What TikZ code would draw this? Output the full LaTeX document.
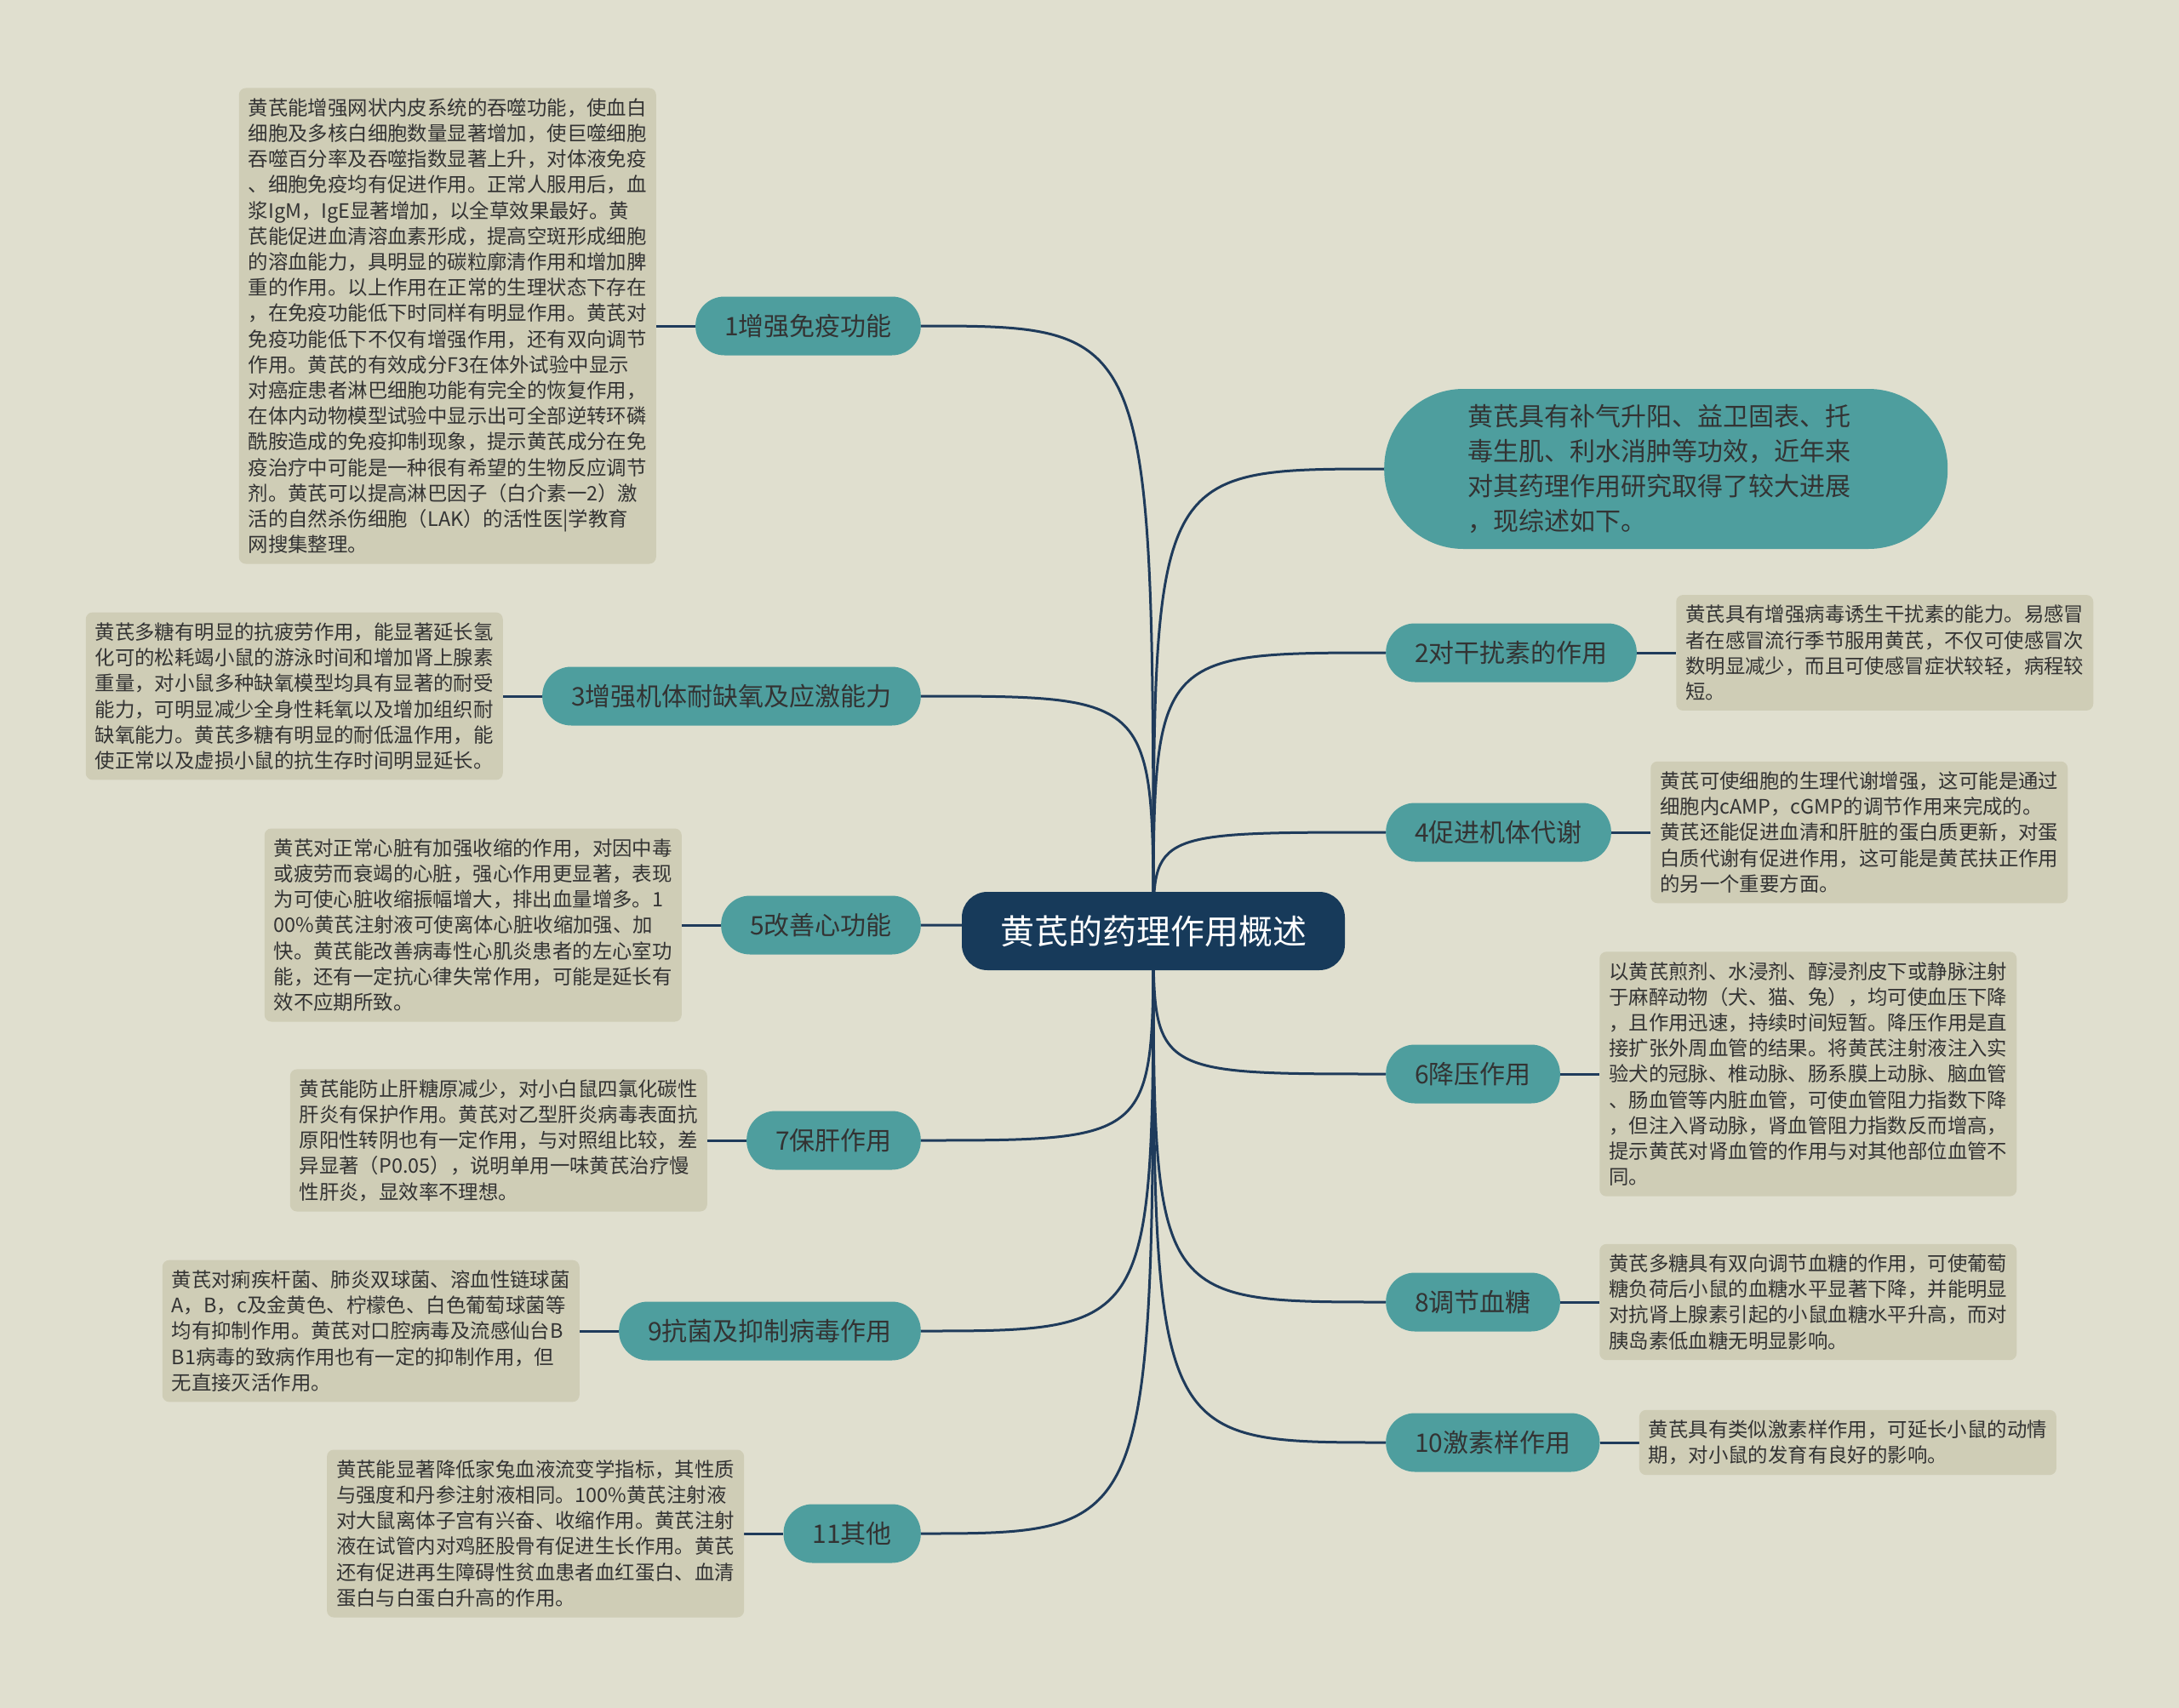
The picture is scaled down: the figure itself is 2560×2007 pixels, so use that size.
\documentclass[tikz,border=0pt]{standalone}
\usepackage{fontspec}
\setmainfont{Noto Sans CJK SC}
\usetikzlibrary{positioning}
\definecolor{bgcol}{HTML}{E0DFCF}
\definecolor{leafcol}{HTML}{CFCDB6}
\definecolor{tealcol}{HTML}{4E9E9E}
\definecolor{hubcol}{HTML}{173A5A}
\definecolor{linecol}{HTML}{1F3B5B}
\definecolor{txtcol}{HTML}{333333}
\pgfdeclarelayer{bg}
\pgfsetlayers{bg,main}
\begin{document}
\begin{tikzpicture}[x=1pt, y=-1pt, node distance=46pt,
    hub/.style={fill=hubcol, text=white, rounded corners=30pt, minimum width=450pt,
      minimum height=92pt, font=\fontsize{40}{48}\selectfont},
    branch/.style={fill=tealcol, text=txtcol, rounded corners=34pt, minimum height=69pt,
      inner xsep=34pt, font=\fontsize{30}{36}\selectfont},
    intro/.style={fill=tealcol, text=txtcol, rounded corners=93pt, minimum width=662pt,
      minimum height=188pt, text width=466pt, align=left, font=\fontsize{30}{40.8}\selectfont},
    leaf/.style={fill=leafcol, text=txtcol, rounded corners=8pt, text width=468pt, align=left,
      inner xsep=11pt, inner ysep=12pt, font=\fontsize{23.4}{30.2}\selectfont},
    link/.style={draw=linecol, line width=3pt}]
  \useasboundingbox (0,0) rectangle (2560,2007);
  % Centre
  \node[hub] (hub) at (1355,1094) {黄芪的药理作用概述};
  % Branches gauche
  \def\xl{1082} \def\xr{1628}
  \node[branch, anchor=east] (b1) at (\xl,383) {1增强免疫功能};
  \node[branch, anchor=east] (b3) at (\xl,818) {3增强机体耐缺氧及应激能力};
  \node[branch, anchor=east] (b5) at (\xl,1087) {5改善心功能};
  \node[branch, anchor=east] (b7) at (\xl,1340) {7保肝作用};
  \node[branch, anchor=east] (b9) at (\xl,1564) {9抗菌及抑制病毒作用};
  \node[branch, anchor=east] (b11) at (\xl,1802) {11其他};
  % Branches droite
  \node[intro, anchor=west] (intro) at (\xr-2,551) {黄芪具有补气升阳、益卫固表、托\\
    毒生肌、利水消肿等功效，近年来\\
    对其药理作用研究取得了较大进展\\
    ，现综述如下。};
  \node[branch, anchor=west] (b2) at (\xr,767) {2对干扰素的作用};
  \node[branch, anchor=west] (b4) at (\xr,978) {4促进机体代谢};
  \node[branch, anchor=west] (b6) at (\xr,1262) {6降压作用};
  \node[branch, anchor=west] (b8) at (\xr,1530) {8调节血糖};
  \node[branch, anchor=west] (b10) at (\xr,1695) {10激素样作用};
  % Textes gauche
  \node[leaf, left=of b1] (l1) {黄芪能增强网状内皮系统的吞噬功能，使血白\\
    细胞及多核白细胞数量显著增加，使巨噬细胞\\
    吞噬百分率及吞噬指数显著上升，对体液免疫\\
    、细胞免疫均有促进作用。正常人服用后，血\\
    浆IgM，IgE显著增加，以全草效果最好。黄\\
    芪能促进血清溶血素形成，提高空斑形成细胞\\
    的溶血能力，具明显的碳粒廓清作用和增加脾\\
    重的作用。以上作用在正常的生理状态下存在\\
    ，在免疫功能低下时同样有明显作用。黄芪对\\
    免疫功能低下不仅有增强作用，还有双向调节\\
    作用。黄芪的有效成分F3在体外试验中显示\\
    对癌症患者淋巴细胞功能有完全的恢复作用，\\
    在体内动物模型试验中显示出可全部逆转环磷\\
    酰胺造成的免疫抑制现象，提示黄芪成分在免\\
    疫治疗中可能是一种很有希望的生物反应调节\\
    剂。黄芪可以提高淋巴因子（白介素一2）激\\
    活的自然杀伤细胞（LAK）的活性医|学教育\\
    网搜集整理。};
  \node[leaf, left=of b3] (l3) {黄芪多糖有明显的抗疲劳作用，能显著延长氢\\
    化可的松耗竭小鼠的游泳时间和增加肾上腺素\\
    重量，对小鼠多种缺氧模型均具有显著的耐受\\
    能力，可明显减少全身性耗氧以及增加组织耐\\
    缺氧能力。黄芪多糖有明显的耐低温作用，能\\
    使正常以及虚损小鼠的抗生存时间明显延长。};
  \node[leaf, left=of b5] (l5) {黄芪对正常心脏有加强收缩的作用，对因中毒\\
    或疲劳而衰竭的心脏，强心作用更显著，表现\\
    为可使心脏收缩振幅增大，排出血量增多。1\\
    00\%黄芪注射液可使离体心脏收缩加强、加\\
    快。黄芪能改善病毒性心肌炎患者的左心室功\\
    能，还有一定抗心律失常作用，可能是延长有\\
    效不应期所致。};
  \node[leaf, left=of b7] (l7) {黄芪能防止肝糖原减少，对小白鼠四氯化碳性\\
    肝炎有保护作用。黄芪对乙型肝炎病毒表面抗\\
    原阳性转阴也有一定作用，与对照组比较，差\\
    异显著（P0.05），说明单用一味黄芪治疗慢\\
    性肝炎，显效率不理想。};
  \node[leaf, left=of b9] (l9) {黄芪对痢疾杆菌、肺炎双球菌、溶血性链球菌\\
    A，B，c及金黄色、柠檬色、白色葡萄球菌等\\
    均有抑制作用。黄芪对口腔病毒及流感仙台B\\
    B1病毒的致病作用也有一定的抑制作用，但\\
    无直接灭活作用。};
  \node[leaf, left=of b11] (l11) {黄芪能显著降低家兔血液流变学指标，其性质\\
    与强度和丹参注射液相同。100\%黄芪注射液\\
    对大鼠离体子宫有兴奋、收缩作用。黄芪注射\\
    液在试管内对鸡胚股骨有促进生长作用。黄芪\\
    还有促进再生障碍性贫血患者血红蛋白、血清\\
    蛋白与白蛋白升高的作用。};
  % Textes droite
  \node[leaf, right=of b2] (l2) {黄芪具有增强病毒诱生干扰素的能力。易感冒\\
    者在感冒流行季节服用黄芪，不仅可使感冒次\\
    数明显减少，而且可使感冒症状较轻，病程较\\
    短。};
  \node[leaf, right=of b4] (l4) {黄芪可使细胞的生理代谢增强，这可能是通过\\
    细胞内cAMP，cGMP的调节作用来完成的。\\
    黄芪还能促进血清和肝脏的蛋白质更新，对蛋\\
    白质代谢有促进作用，这可能是黄芪扶正作用\\
    的另一个重要方面。};
  \node[leaf, right=of b6] (l6) {以黄芪煎剂、水浸剂、醇浸剂皮下或静脉注射\\
    于麻醉动物（犬、猫、兔），均可使血压下降\\
    ，且作用迅速，持续时间短暂。降压作用是直\\
    接扩张外周血管的结果。将黄芪注射液注入实\\
    验犬的冠脉、椎动脉、肠系膜上动脉、脑血管\\
    、肠血管等内脏血管，可使血管阻力指数下降\\
    ，但注入肾动脉，肾血管阻力指数反而增高，\\
    提示黄芪对肾血管的作用与对其他部位血管不\\
    同。};
  \node[leaf, right=of b8] (l8) {黄芪多糖具有双向调节血糖的作用，可使葡萄\\
    糖负荷后小鼠的血糖水平显著下降，并能明显\\
    对抗肾上腺素引起的小鼠血糖水平升高，而对\\
    胰岛素低血糖无明显影响。};
  \node[leaf, right=of b10] (l10) {黄芪具有类似激素样作用，可延长小鼠的动情\\
    期，对小鼠的发育有良好的影响。};
  % Fond et liens
  \begin{pgfonlayer}{bg}
    \fill[bgcol] (0,0) rectangle (2560,2007);
    \foreach \b in {b1,b3,b5,b7,b9,b11}
      \draw[link] (hub.center) .. controls (hub.center |- \b.east) .. (\b.east);
    \foreach \b in {intro,b2,b4,b6,b8,b10}
      \draw[link] (hub.center) .. controls (hub.center |- \b.west) .. (\b.west);
    \foreach \n in {1,3,5,7,9,11}
      \draw[link] (b\n.west) -- (l\n.east);
    \foreach \n in {2,4,6,8,10}
      \draw[link] (b\n.east) -- (l\n.west);
  \end{pgfonlayer}
\end{tikzpicture}
\end{document}
